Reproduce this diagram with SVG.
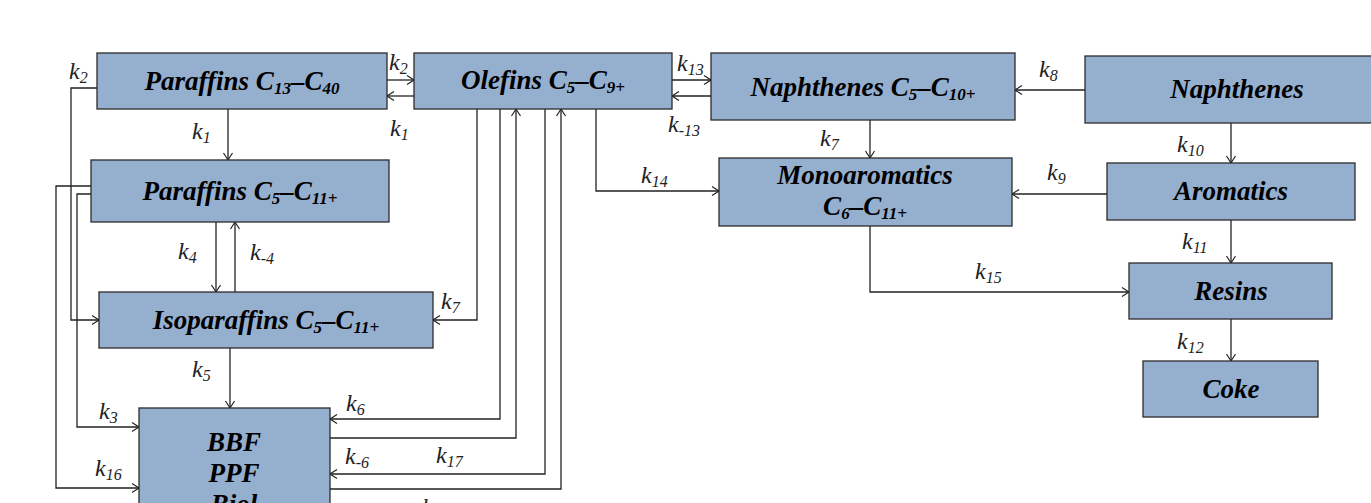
<svg xmlns="http://www.w3.org/2000/svg" width="1371" height="503" viewBox="0 0 1371 503">
<style>
.box{fill:#95AFCF;stroke:#2b2b2b;stroke-width:1.3}
.t{font-family:"Liberation Serif","Times New Roman",serif;font-weight:bold;font-style:italic;font-size:27px;fill:#000;text-anchor:middle}
.s{font-size:17px}
.k{font-family:"Liberation Serif","Times New Roman",serif;font-style:italic;font-size:24px;fill:#222}
.ks{font-size:16px}
.c{fill:none;stroke:#222;stroke-width:1.3}
</style>
<defs>
<marker id="a" markerUnits="userSpaceOnUse" markerWidth="12" markerHeight="12" refX="8" refY="5" orient="auto">
<path d="M1,0.5 L8,5 L1,9.5" fill="none" stroke="#222" stroke-width="1.2"/>
</marker>
</defs>
<rect width="1371" height="503" fill="#fff"/>
<g id="connectors">
<path class="c" d="M387,80 H414" marker-end="url(#a)"/>
<path class="c" d="M414,96 H387" marker-end="url(#a)"/>
<path class="c" d="M228,109 V160" marker-end="url(#a)"/>
<path class="c" d="M216,222 V292" marker-end="url(#a)"/>
<path class="c" d="M235,292 V222" marker-end="url(#a)"/>
<path class="c" d="M230,348 V408" marker-end="url(#a)"/>
<path class="c" d="M97,88 H71 V320 H99" marker-end="url(#a)"/>
<path class="c" d="M91,186 H56 V488 H139" marker-end="url(#a)"/>
<path class="c" d="M91,194 H77 V427 H139" marker-end="url(#a)"/>
<path class="c" d="M477,109 V320 H433" marker-end="url(#a)"/>
<path class="c" d="M500,109 V419 H330" marker-end="url(#a)"/>
<path class="c" d="M330,438 H516 V109" marker-end="url(#a)"/>
<path class="c" d="M545,109 V474 H330" marker-end="url(#a)"/>
<path class="c" d="M330,489 H561 V109" marker-end="url(#a)"/>
<path class="c" d="M596,109 V191 H719" marker-end="url(#a)"/>
<path class="c" d="M672,80 H711" marker-end="url(#a)"/>
<path class="c" d="M711,96 H672" marker-end="url(#a)"/>
<path class="c" d="M870,120 V158" marker-end="url(#a)"/>
<path class="c" d="M870,226 V292 H1129" marker-end="url(#a)"/>
<path class="c" d="M1085,90 H1015" marker-end="url(#a)"/>
<path class="c" d="M1107,194 H1012" marker-end="url(#a)"/>
<path class="c" d="M1231,123 V163" marker-end="url(#a)"/>
<path class="c" d="M1231,220 V263" marker-end="url(#a)"/>
<path class="c" d="M1231,319 V361" marker-end="url(#a)"/>
</g>
<g id="labels">
<text class="k" x="69" y="79">k<tspan class="ks" dy="4">2</tspan></text>
<text class="k" x="389" y="70">k<tspan class="ks" dy="4">2</tspan></text>
<text class="k" x="390" y="136">k<tspan class="ks" dy="4">1</tspan></text>
<text class="k" x="192" y="139">k<tspan class="ks" dy="4">1</tspan></text>
<text class="k" x="178" y="259">k<tspan class="ks" dy="4">4</tspan></text>
<text class="k" x="250" y="260">k<tspan class="ks" dy="4">-4</tspan></text>
<text class="k" x="441" y="309">k<tspan class="ks" dy="4">7</tspan></text>
<text class="k" x="192" y="377">k<tspan class="ks" dy="4">5</tspan></text>
<text class="k" x="99" y="419">k<tspan class="ks" dy="4">3</tspan></text>
<text class="k" x="95" y="476">k<tspan class="ks" dy="4">16</tspan></text>
<text class="k" x="346" y="411">k<tspan class="ks" dy="4">6</tspan></text>
<text class="k" x="345" y="464">k<tspan class="ks" dy="4">-6</tspan></text>
<text class="k" x="436" y="463">k<tspan class="ks" dy="4">17</tspan></text>
<text class="k" x="422" y="515">k</text>
<text class="k" x="677" y="71">k<tspan class="ks" dy="4">13</tspan></text>
<text class="k" x="668" y="132">k<tspan class="ks" dy="4">-13</tspan></text>
<text class="k" x="641" y="183">k<tspan class="ks" dy="4">14</tspan></text>
<text class="k" x="820" y="146">k<tspan class="ks" dy="4">7</tspan></text>
<text class="k" x="1039" y="77">k<tspan class="ks" dy="4">8</tspan></text>
<text class="k" x="1047" y="180">k<tspan class="ks" dy="4">9</tspan></text>
<text class="k" x="1177" y="152">k<tspan class="ks" dy="4">10</tspan></text>
<text class="k" x="1182" y="249">k<tspan class="ks" dy="4">11</tspan></text>
<text class="k" x="1177" y="349">k<tspan class="ks" dy="4">12</tspan></text>
<text class="k" x="975" y="279">k<tspan class="ks" dy="4">15</tspan></text>
</g>
<g id="paraffins-c13-c40">
<rect class="box" x="97" y="53" width="290" height="56"/>
<text class="t" x="242" y="90">Paraffins C<tspan class="s" dy="4">13</tspan><tspan dy="-4">–C</tspan><tspan class="s" dy="4">40</tspan></text>
</g>
<g id="olefins">
<rect class="box" x="414" y="53" width="258" height="56"/>
<text class="t" x="543" y="89">Olefins C<tspan class="s" dy="4">5</tspan><tspan dy="-4">–C</tspan><tspan class="s" dy="4">9+</tspan></text>
</g>
<g id="naphthenes-c5-c10">
<rect class="box" x="711" y="53" width="304" height="67"/>
<text class="t" x="863" y="96">Naphthenes C<tspan class="s" dy="4">5</tspan><tspan dy="-4">–C</tspan><tspan class="s" dy="4">10+</tspan></text>
</g>
<g id="naphthenes">
<rect class="box" x="1085" y="56" width="304" height="67"/>
<text class="t" x="1237" y="98">Naphthenes</text>
</g>
<g id="paraffins-c5-c11">
<rect class="box" x="91" y="160" width="298" height="62"/>
<text class="t" x="240" y="200">Paraffins C<tspan class="s" dy="4">5</tspan><tspan dy="-4">–C</tspan><tspan class="s" dy="4">11+</tspan></text>
</g>
<g id="monoaromatics">
<rect class="box" x="719" y="158" width="293" height="68"/>
<text class="t" x="865" y="184">Monoaromatics</text>
<text class="t" x="865" y="215">C<tspan class="s" dy="4">6</tspan><tspan dy="-4">–C</tspan><tspan class="s" dy="4">11+</tspan></text>
</g>
<g id="aromatics">
<rect class="box" x="1107" y="163" width="248" height="57"/>
<text class="t" x="1231" y="200">Aromatics</text>
</g>
<g id="isoparaffins">
<rect class="box" x="99" y="292" width="334" height="56"/>
<text class="t" x="266" y="329">Isoparaffins C<tspan class="s" dy="4">5</tspan><tspan dy="-4">–C</tspan><tspan class="s" dy="4">11+</tspan></text>
</g>
<g id="resins">
<rect class="box" x="1129" y="263" width="203" height="56"/>
<text class="t" x="1231" y="300">Resins</text>
</g>
<g id="coke">
<rect class="box" x="1143" y="361" width="175" height="56"/>
<text class="t" x="1231" y="398">Coke</text>
</g>
<g id="bbf-ppf">
<rect class="box" x="139" y="408" width="191" height="120"/>
<text class="t" x="234" y="451">BBF</text>
<text class="t" x="234" y="482">PPF</text>
<text class="t" x="234" y="513">Biol</text>
</g>
</svg>
